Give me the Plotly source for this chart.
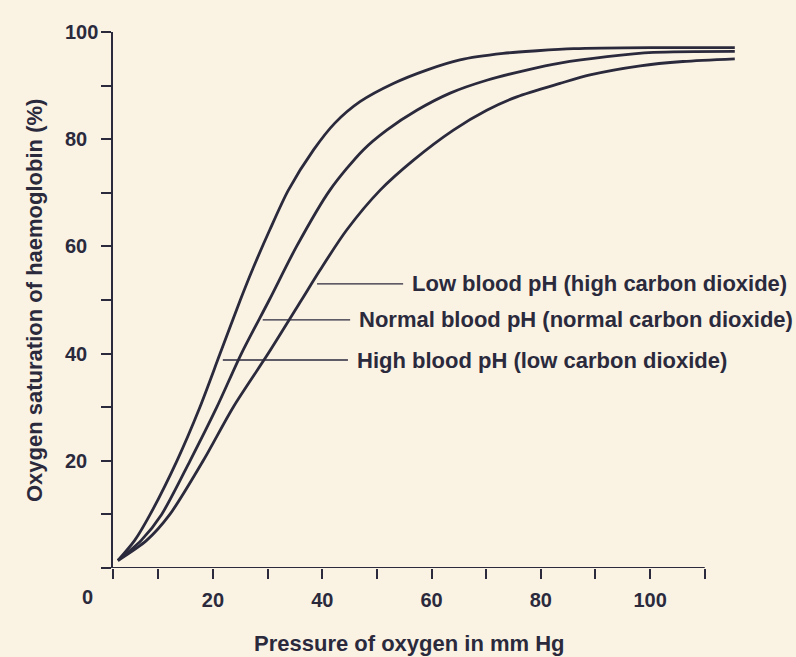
import plotly.graph_objects as go

# ---- data ----
high_x = [2.6, 5.7, 8.5, 13.4, 17.6, 21.3, 25.0, 27.2, 30.4, 33.8, 38.4, 42.3, 46.9, 53.0, 59.1, 65.2, 73.1, 79.3, 86.0, 100.0, 115.5]
high_y = [1.4, 5.2, 10, 20, 30, 40, 50, 55.6, 63.1, 70.5, 78.0, 83.0, 87.0, 90.4, 92.9, 94.8, 96.0, 96.5, 96.9, 97.1, 97.1]

normal_x = [2.6, 6.9, 10.6, 15.8, 20.7, 25.2, 30.3, 35.3, 41.4, 47.5, 51.8, 57.3, 63.4, 70.1, 77.4, 83.5, 92.1, 100.6, 115.5]
normal_y = [1.4, 5.2, 10, 20, 30, 40, 50, 60, 70.5, 78.0, 81.7, 85.4, 88.6, 91.0, 92.9, 94.2, 95.4, 96.2, 96.4]

low_x = [2.6, 7.9, 12.1, 18.2, 23.7, 30.1, 36.2, 39.6, 44.5, 50.6, 56.7, 64.0, 70.1, 75.6, 83.5, 89.0, 98.2, 106.0, 115.5]
low_y = [1.4, 5.2, 10, 20, 30, 40, 50, 55.6, 63.1, 70.5, 76.1, 81.7, 85.4, 87.9, 90.4, 92.0, 93.7, 94.5, 95.0]

label_texts = ["Low blood pH (high carbon dioxide)",
               "Normal blood pH (normal carbon dioxide)",
               "High blood pH (low carbon dioxide)"]
label_curve_x = [39.05, 29.1, 21.8]
label_curve_y = [53.0, 46.3, 38.8]
label_end_x = [54.8, 45.1, 44.7]

x_tick_vals = [1.7, 10, 20, 30, 40, 50, 60, 70, 80, 90, 100, 110]
x_tick_text = ["", "", "20", "", "40", "", "60", "", "80", "", "100", ""]
y_tick_vals = [0, 10, 20, 30, 40, 50, 60, 70, 80, 90, 100]
y_label_vals = [20, 40, 60, 80, 100]

x_title = "Pressure of oxygen in mm Hg"
y_title = "Oxygen saturation of haemoglobin (%)"

# ---- style ----
W, H = 796, 657
ML, MR, MT, MB = 113, 53, 32, 89
BG = "#faf3e4"
INK = "#2b2a3d"
FONT = "Liberation Sans, Arial, sans-serif"

def paper_x(px):
    return (px - ML) / (W - ML - MR)

def paper_y(py):
    return (H - MB - py) / (H - MT - MB)

fig = go.Figure()
for xs, ys in [(high_x, high_y), (normal_x, normal_y), (low_x, low_y)]:
    fig.add_trace(go.Scatter(x=xs, y=ys, mode="lines",
                             line=dict(color=INK, width=2.8, shape="spline", smoothing=0.8),
                             showlegend=False, hoverinfo="skip"))

annotations = []
for txt, cx, cy, ex in zip(label_texts, label_curve_x, label_curve_y, label_end_x):
    annotations.append(dict(x=cx, y=cy, xref="x", yref="y", ax=ex, ay=cy, axref="x", ayref="y",
                            text=txt, showarrow=True, arrowhead=0, arrowwidth=1.4, arrowcolor=INK,
                            xanchor="left", yanchor="middle", borderpad=8,
                            font=dict(family=FONT, size=22, color=INK, weight="bold")))

for v in y_label_vals:
    annotations.append(dict(x=paper_x(63), y=v, xref="paper", yref="y", text=str(v), showarrow=False,
                            xanchor="left", yanchor="middle",
                            font=dict(family=FONT, size=20, color=INK, weight="bold")))

annotations.append(dict(x=paper_x(87), y=paper_y(597), xref="paper", yref="paper", text="0",
                        showarrow=False, xanchor="center", yanchor="middle",
                        font=dict(family=FONT, size=20, color=INK, weight="bold")))
annotations.append(dict(x=paper_x(409), y=paper_y(643), xref="paper", yref="paper", text=x_title,
                        showarrow=False, xanchor="center", yanchor="middle",
                        font=dict(family=FONT, size=22, color=INK, weight="bold")))
annotations.append(dict(x=paper_x(34), y=paper_y(301), xref="paper", yref="paper", text=y_title,
                        showarrow=False, xanchor="center", yanchor="middle", textangle=-90,
                        font=dict(family=FONT, size=22, color=INK, weight="bold")))

fig.update_layout(
    width=W, height=H,
    margin=dict(l=ML, r=MR, t=MT, b=MB),
    paper_bgcolor=BG, plot_bgcolor=BG,
    annotations=annotations,
    shapes=[dict(type="line", xref="x", yref="y", x0=x_tick_vals[0], x1=x_tick_vals[-1], y0=0, y1=0,
                 line=dict(color=INK, width=2))],
)
fig.update_xaxes(range=[1.7, 117], showgrid=False, zeroline=False, showline=False,
                 tickmode="array", tickvals=x_tick_vals, ticktext=x_tick_text,
                 ticks="outside", ticklen=10, tickwidth=2, tickcolor=INK, ticklabelstandoff=4,
                 tickfont=dict(family=FONT, size=20, color=INK, weight="bold"))
fig.update_yaxes(range=[0, 100], showgrid=False, zeroline=False, showline=True, linecolor=INK, linewidth=2,
                 tickmode="array", tickvals=y_tick_vals, showticklabels=False,
                 ticks="outside", ticklen=10, tickwidth=2, tickcolor=INK)

fig.write_html("out.html", config={"displayModeBar": False},
               post_script="document.body.style.margin='0';document.body.style.background='" + BG + "';")
